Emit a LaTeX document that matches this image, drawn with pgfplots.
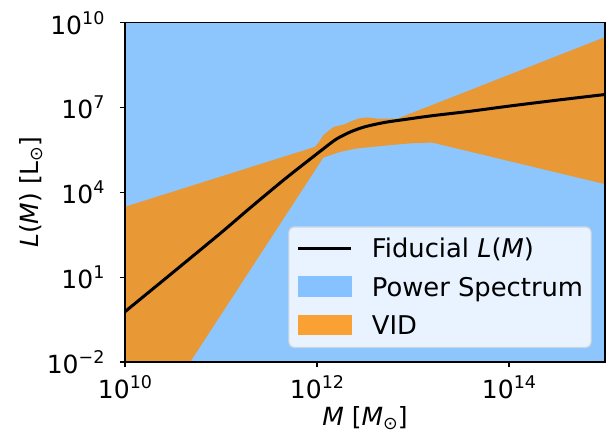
\documentclass[border=0pt]{standalone}
\usepackage{fontspec}
\setmainfont{DejaVu Sans}
\usepackage{pgfplots}
\pgfplotsset{compat=1.18}

\definecolor{psblue}{RGB}{141,198,253}
\definecolor{vidorange}{RGB}{232,152,52}
\definecolor{legbg}{RGB}{232,243,255}
\definecolor{legblue}{RGB}{133,194,255}
\definecolor{legorange}{RGB}{250,161,52}
\definecolor{legedge}{RGB}{205,215,226}

\newcommand\tp[1]{10\raisebox{10pt}{\fontsize{17.5}{17.5}\selectfont #1}}
\newcommand\sub[1]{\raisebox{-4pt}{\fontsize{17.5}{17.5}\selectfont #1}}

\begin{document}
\begin{tikzpicture}[font=\fontsize{25}{30}\selectfont]
\begin{axis}[
  name=ax,
  scale only axis, width=480pt, height=339.3pt,
  xmode=log, ymode=log,
  xmin=1e10, xmax=1e15, ymin=1e-2, ymax=1e10,
  axis on top,
  xtick={1e10,1e12,1e14},
  xticklabels={\tp{10},\tp{12},\tp{14}},
  ytick={1e-2,1e1,1e4,1e7,1e10},
  yticklabels={\tp{−2},\tp{1},\tp{4},\tp{7},\tp{10}},
  xminorticks=false, yminorticks=false,
  tick pos=left,
  tick align=outside,
  major tick length=5.4pt,
  every tick/.style={black, line width=1.2pt},
  axis line style={black, line width=1.2pt},
  xticklabel style={anchor=base, inner sep=0pt, yshift=-31pt},
  yticklabel style={anchor=east, inner sep=0pt, xshift=-15pt},
  xlabel={\textit{M} [\textit{M}\sub{⊙}]},
  ylabel={\textit{L}(\textit{M}) [L\sub{⊙}]},
  xlabel style={at={(axis description cs:0.5,0)}, anchor=base, yshift=-64pt, inner sep=0pt},
  ylabel style={at={(axis description cs:-0.195,0.5)}, anchor=center, inner sep=0pt},
  legend style={at={(0.9723,0.0413)}, anchor=south east, draw=legedge, fill=legbg,
    font=\fontsize{25.8}{30}\selectfont,
    line width=1.2pt, rounded corners=5pt, inner xsep=8pt, inner ysep=12pt, row sep=18.5pt,
    nodes={inner sep=0pt, text height=19pt, text depth=0pt},
    /tikz/every odd column/.append style={column sep=19pt}},
  legend cell align=left,
]
% Power Spectrum band (covers the whole visible range)
\addplot[fill=psblue, draw=none, forget plot] coordinates {
  (1e9,1e-3) (1e16,1e-3) (1e16,1e11) (1e9,1e11)
} -- cycle;
% VID band
\addplot[fill=vidorange, draw=none, forget plot] coordinates {
  (1e10,3090) (9.55e11,4.074e5) (1.047e12,6.026e5) (1.164e12,1.047e6)
  (1.479e12,2.042e6) (1.950e12,2.570e6) (2.188e12,3.090e6) (2.692e12,4.074e6)
  (3.311e12,4.467e6) (4.169e12,4.074e6) (6.918e12,4.074e6) (1e15,3.090e9)
  (1e15,1.950e4) (1.585e13,5.754e5) (1e13,5.495e5) (5.754e12,4.677e5)
  (2.570e12,3.548e5) (1.738e12,2.692e5) (1.164e12,1.698e5) (1e10,2.884e-6)
} -- cycle;
% Fiducial L(M)
\addplot[black, line width=3pt, smooth,
  legend image code/.code={\draw[black, line width=3pt, sharp corners] (0pt,0pt) -- (53pt,0pt); \path[draw=none, fill=none] (0pt,-9.5pt) (53pt,9.5pt);}]
  coordinates {
  (1e10,0.603) (3.162e10,14.79) (1e11,371.5) (1.995e11,2754) (4.467e11,26915)
  (7.943e11,1.259e5) (1.175e12,3.548e5) (1.585e12,7.586e5) (2.239e12,1.380e6)
  (3.162e12,2.089e6) (5.012e12,2.951e6) (7.943e12,3.715e6) (1.585e13,5.129e6)
  (3.981e13,7.413e6) (1e14,1.122e7) (3.162e14,1.820e7) (1e15,2.884e7)
};
\addlegendentry{Fiducial \textit{L}(\textit{M})}
\addlegendimage{legend image code/.code={\fill[legblue, sharp corners] (0pt,-9.5pt) rectangle (53pt,9.5pt);}}
\addlegendentry{Power Spectrum}
\addlegendimage{legend image code/.code={\fill[legorange, sharp corners] (0pt,-9.5pt) rectangle (53pt,9.5pt);}}
\addlegendentry{VID}
\end{axis}
\pgfresetboundingbox
\path[use as bounding box] ([shift={(-125pt,-71pt)}]ax.south west) rectangle ([shift={(4pt,22.7pt)}]ax.north east);
\end{tikzpicture}
\end{document}
